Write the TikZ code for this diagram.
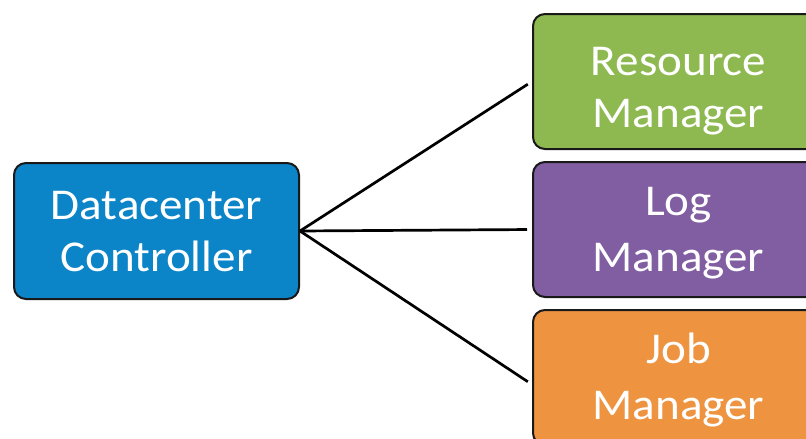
\documentclass[tikz,border=0pt]{standalone}
\usepackage{fontspec}
\newfontfamily\boxfont[FakeStretch=1.07]{Carlito}
\definecolor{ctrlblue}{RGB}{11,132,200}
\definecolor{resgreen}{RGB}{141,185,80}
\definecolor{logpurple}{RGB}{128,94,161}
\definecolor{joborange}{RGB}{238,147,64}
\definecolor{edgedark}{RGB}{25,25,25}
\begin{document}
\begin{tikzpicture}[x=1pt,y=1pt,
  unitbox/.style={draw=edgedark, line width=2pt, rounded corners=12pt,
    text=white, align=center, inner sep=0pt, text depth=0pt},
  tight/.style={font=\boxfont\fontsize{44}{52}\selectfont, text height=80pt},
  loose/.style={font=\boxfont\fontsize{44}{56}\selectfont, text height=84pt},
  link/.style={draw=black, line width=2.7pt, shorten >=5pt}]
  \useasboundingbox (0,0) rectangle (806,-439);
  \fill[white] (0,0) rectangle (806,-439);
  \clip (0,0) rectangle (806,-439);

  % controller on the left
  \node[unitbox, tight, fill=ctrlblue, minimum width=285pt, minimum height=136pt]
    (ctrl) at (156.5,-231) {Datacenter\\Controller};

  % managers on the right, running past the right edge
  \node[unitbox, tight, fill=resgreen, minimum width=291pt, minimum height=135pt,
    text height=91pt]
    (rm) at (678.5,-81.5) {Resource\\Manager};
  \node[unitbox, loose, fill=logpurple, minimum width=291pt, minimum height=135pt]
    (lm) at (678.5,-229.5) {Log\\Manager};
  \node[unitbox, loose, fill=joborange, minimum width=291pt, minimum height=135pt]
    (jm) at (678.5,-377.5) {Job\\Manager};

  % connectors fanning out from the controller
  \draw[link] (ctrl.east) -- (rm.west);
  \draw[link] (ctrl.east) -- (lm.west);
  \draw[link] (ctrl.east) -- ([yshift=-7pt]jm.west);
\end{tikzpicture}
\end{document}
